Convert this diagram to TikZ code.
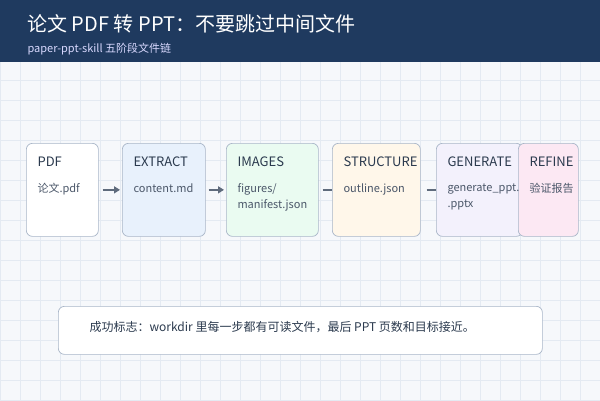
\documentclass[tikz,border=0pt]{standalone}
\usepackage{fontspec}
\setmainfont{Noto Sans CJK SC}
\usetikzlibrary{arrows.meta}
\definecolor{hdr}{HTML}{1F3A5F}
\definecolor{grid}{HTML}{E4EAF2}
\definecolor{bord}{HTML}{A9B6C8}
\definecolor{txt}{HTML}{2B3A4E}
\definecolor{arr}{HTML}{5F6B7C}
\definecolor{bg}{HTML}{F6F8FB}
\definecolor{f2}{HTML}{E8F1FC}
\definecolor{f3}{HTML}{EAFBF1}
\definecolor{f4}{HTML}{FFF7EA}
\definecolor{f5}{HTML}{F3F1FC}
\definecolor{f6}{HTML}{FCE8F3}
\tikzset{
 box/.style={draw=bord,line width=0.7pt,rounded corners=6pt,minimum height=93pt,anchor=north west,inner sep=0pt},
 ttl/.style={anchor=north west,font=\fontsize{13}{15}\selectfont,text=txt},
 sub/.style={anchor=north west,font=\fontsize{11}{16}\selectfont,text=txt!85,align=left},
 ar/.style={-{Triangle[length=6pt,width=7pt]},draw=arr,line width=2pt}
}
\begin{document}
\begin{tikzpicture}[x=1pt,y=-1pt]
\useasboundingbox (0,0) rectangle (600,400);
\fill[bg] (0,0) rectangle (600,400);
\foreach \i in {0,20,...,600} \draw[grid,line width=0.4pt] (\i,0)--(\i,400);
\foreach \i in {0,20,...,400} \draw[grid,line width=0.4pt] (0,\i)--(600,\i);
\fill[hdr] (0,0) rectangle (600,62);
\node[anchor=west,text=white,font=\fontsize{20}{22}\selectfont] (t) at (24,24) {论文 PDF 转 PPT：不要跳过中间文件};
\node[anchor=west,text=white!85!blue,font=\fontsize{11}{13}\selectfont] (s) at (24,49) {paper-ppt-skill 五阶段文件链};
\node[box,fill=white,minimum width=72pt] (b1) at (26,143) {};
\node[box,fill=f2,minimum width=83pt] (b2) at (122,143) {};
\node[box,fill=f3,minimum width=92pt] (b3) at (226,143) {};
\node[box,fill=f4,minimum width=88pt] (b4) at (332,143) {};
\node[box,fill=f5,minimum width=86pt] (b5) at (436,143) {};
\node[box,fill=f6,minimum width=60pt] (b6) at (518,143) {};
\foreach \n/\a/\b in {b1/PDF/{论文.pdf},b2/EXTRACT/{content.md},b3/IMAGES/{figures/\\manifest.json},b4/STRUCTURE/{outline.json},b5/GENERATE/{generate\_ppt.\\.pptx},b6/REFINE/{验证报告}}{
 \node[ttl] (\n t) at ([xshift=8pt,yshift=-10pt]\n.north west) {\a};
 \node[sub] (\n s) at ([xshift=8pt,yshift=-37pt]\n.north west) {\b};
}
\draw[ar] ([xshift=4pt]b1.east) -- ([xshift=-2pt]b2.west);
\draw[ar] ([xshift=3pt]b2.east) -- ([xshift=-2pt]b3.west);
\draw[arr,line width=2pt] ([xshift=4pt]b3.east) -- (b4.west);
\draw[arr,line width=2pt] ([xshift=6pt]b4.east) -- (b5.west);
\node[draw=bord,fill=white,rounded corners=6pt,line width=0.7pt,minimum width=484pt,minimum height=48pt,anchor=north west] (f) at (58,306) {};
\node[anchor=west,font=\fontsize{12}{14}\selectfont,text=txt] (ft) at (86,327) {成功标志：workdir 里每一步都有可读文件，最后 PPT 页数和目标接近。};
\end{tikzpicture}
\end{document}
